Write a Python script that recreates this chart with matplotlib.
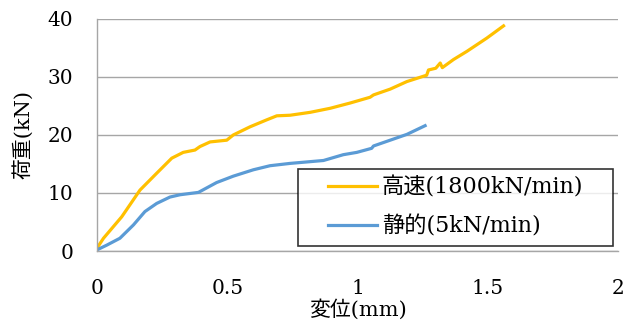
import matplotlib
matplotlib.use("Agg")
import matplotlib.pyplot as plt
from matplotlib.legend_handler import HandlerLine2D

plt.rcParams['font.family'] = ['DejaVu Serif', 'Noto Sans CJK JP']

# 高速(1800kN/min)
fast_x = [0.0, 0.025, 0.095, 0.165, 0.229, 0.287, 0.331, 0.376, 0.395, 0.434,
          0.498, 0.523, 0.587, 0.651, 0.690, 0.741, 0.818, 0.895, 0.971, 1.048,
          1.061, 1.125, 1.189, 1.265, 1.272, 1.300, 1.317, 1.325, 1.368, 1.419,
          1.496, 1.560]
fast_y = [0.5, 2.2, 5.9, 10.5, 13.4, 16.0, 17.0, 17.4, 18.0, 18.8,
          19.1, 20.0, 21.4, 22.6, 23.3, 23.4, 23.9, 24.6, 25.5, 26.5,
          26.9, 27.9, 29.2, 30.3, 31.2, 31.5, 32.4, 31.6, 33.0, 34.4,
          36.7, 38.8]

# 静的(5kN/min)
static_x = [0.0, 0.037, 0.088, 0.140, 0.184, 0.229, 0.280, 0.319, 0.389, 0.459,
            0.523, 0.600, 0.664, 0.741, 0.869, 0.945, 0.997, 1.054, 1.061, 1.125,
            1.189, 1.259]
static_y = [0.2, 1.0, 2.2, 4.5, 6.8, 8.2, 9.3, 9.7, 10.1, 11.8,
            12.9, 14.0, 14.7, 15.1, 15.6, 16.6, 17.0, 17.7, 18.1, 19.1,
            20.1, 21.6]

x_ticks = [0, 0.5, 1, 1.5, 2]
x_labels = ["0", "0.5", "1", "1.5", "2"]
y_ticks = [0, 10, 20, 30, 40]

fig = plt.figure(figsize=(6.38, 3.26), dpi=100)
ax = fig.add_axes([0.152, 0.230, 0.817, 0.712])

ax.plot(fast_x, fast_y, color="#FFC000", linewidth=2.3, label="高速(1800kN/min)")
ax.plot(static_x, static_y, color="#5B9BD5", linewidth=2.3, label="静的(5kN/min)")

ax.set_xlim(0, 2)
ax.set_ylim(0, 40)
ax.set_xticks(x_ticks)
ax.set_xticklabels(x_labels)
ax.set_yticks(y_ticks)
ax.tick_params(length=0, labelsize=14.5)
ax.tick_params(axis="x", pad=20)
ax.tick_params(axis="y", pad=17)
ax.grid(axis="y", color="#A6A6A6", linewidth=1)
ax.set_axisbelow(True)

for s in ["top", "right"]:
    ax.spines[s].set_visible(False)
for s in ["left", "bottom"]:
    ax.spines[s].set_color("#A6A6A6")
    ax.spines[s].set_linewidth(1)

ax.set_xlabel("変位(mm)", fontsize=15, labelpad=1)
ax.set_ylabel("荷重(kN)", fontsize=15, labelpad=10)

leg = ax.legend(loc="upper left", bbox_to_anchor=(0.386, 0.353, 0.604, 0.0),
                mode="expand", fontsize=16, frameon=True, fancybox=False,
                edgecolor="black", handlelength=3.2, handletextpad=0.22,
                borderaxespad=0, labelspacing=0.75, borderpad=0.35,
                handler_map={plt.Line2D: HandlerLine2D(xpad=1.0)})
leg.get_frame().set_linewidth(1.2)

fig.savefig("out.png", dpi=100)
